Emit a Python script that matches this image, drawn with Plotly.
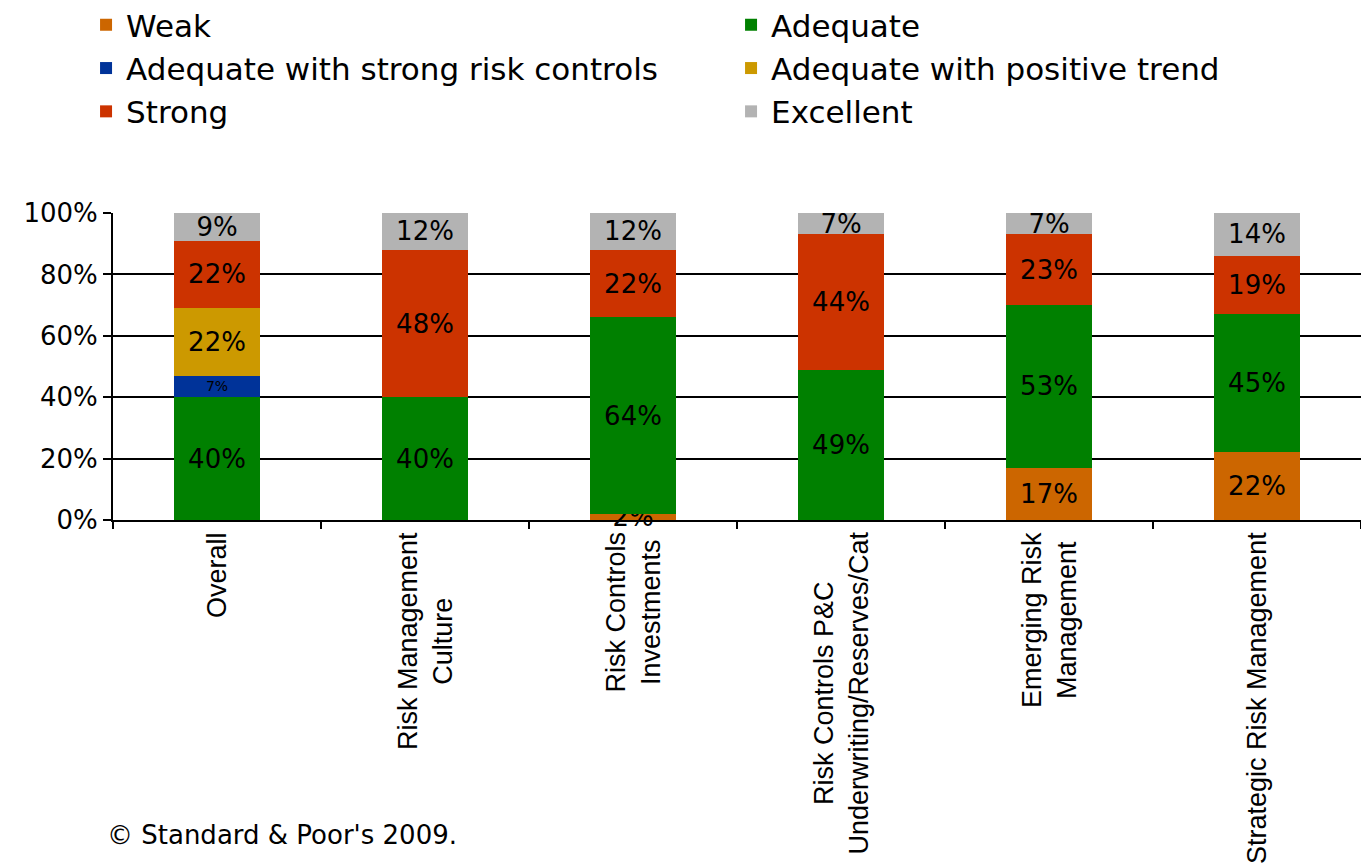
import plotly.graph_objects as go

categories = [
    "Overall",
    "Risk Management<br>Culture",
    "Risk Controls<br>Investments",
    "Risk Controls P&C<br>Underwriting/Reserves/Cat",
    "Emerging Risk<br>Management",
    "Strategic Risk Management",
]
cat_keys = ["c0", "c1", "c2", "c3", "c4", "c5"]

weak = [0, 0, 2, 0, 17, 22]
adequate = [40, 40, 64, 49, 53, 45]
adequate_strong_controls = [7, 0, 0, 0, 0, 0]
adequate_positive_trend = [22, 0, 0, 0, 0, 0]
strong = [22, 48, 22, 44, 23, 19]
excellent = [9, 12, 12, 7, 7, 14]

y_ticks = [0, 20, 40, 60, 80, 100]
y_tick_labels = ["0%", "20%", "40%", "60%", "80%", "100%"]

series = [
    ("Weak", weak, "#CC6600", 26),
    ("Adequate", adequate, "#008000", 26),
    ("Adequate with strong risk controls", adequate_strong_controls, "#003399", 14),
    ("Adequate with positive trend", adequate_positive_trend, "#CC9900", 26),
    ("Strong", strong, "#CC3300", 26),
    ("Excellent", excellent, "#B3B3B3", 26),
]

FONT = "DejaVu Sans, Verdana, sans-serif"

fig = go.Figure()
for name, vals, color, fsize in series:
    fig.add_trace(go.Bar(
        name=name,
        x=cat_keys,
        y=vals,
        marker=dict(color=color, line=dict(width=0)),
        text=[f"{v}%" if v else "" for v in vals],
        textposition="inside",
        insidetextanchor="middle",
        constraintext="none",
        cliponaxis=False,
        textfont=dict(family=FONT, size=fsize, color="black"),
        hoverinfo="skip",
    ))

annotations = []
for key, label in zip(cat_keys, categories):
    annotations.append(dict(
        x=key, xref="x", y=0, yref="paper",
        text=label, textangle=-90, showarrow=False,
        xanchor="center", yanchor="top", yshift=-10, align="center",
        font=dict(family="Liberation Sans, Arial, sans-serif", size=27, color="black"),
    ))
annotations.append(dict(
    x=-0.0064, xref="paper", y=-1.026, yref="paper",
    text="© Standard & Poor's 2009.", showarrow=False,
    xanchor="left", yanchor="middle",
    font=dict(family=FONT, size=26, color="black"),
))

fig.update_layout(
    width=1361, height=866,
    margin=dict(l=113, r=0, t=213, b=346, autoexpand=False),
    barmode="stack",
    bargap=0.59,
    paper_bgcolor="white",
    plot_bgcolor="white",
    showlegend=True,
    legend=dict(
        orientation="h",
        xref="paper", yref="paper",
        x=-0.0216, y=1.70, xanchor="left", yanchor="top",
        entrywidth=600, entrywidthmode="pixels",
        font=dict(family=FONT, size=31, color="black"),
        traceorder="normal",
        bgcolor="rgba(0,0,0,0)",
    ),
    xaxis=dict(
        type="category",
        range=[-0.5, 5.5],
        showticklabels=False,
        tickson="boundaries",
        ticks="outside", ticklen=7, tickcolor="black", tickwidth=2,
        showline=True, linecolor="black", linewidth=2,
        showgrid=False,
    ),
    yaxis=dict(
        range=[0, 100],
        tickvals=y_ticks, ticktext=y_tick_labels,
        ticks="outside", ticklen=8, tickcolor="black", tickwidth=2,
        showline=True, linecolor="black", linewidth=2,
        showgrid=True, gridcolor="black", gridwidth=2,
        zeroline=False,
        tickfont=dict(family=FONT, size=26, color="black"),
    ),
    annotations=annotations,
)

fig.write_html("out.html")
